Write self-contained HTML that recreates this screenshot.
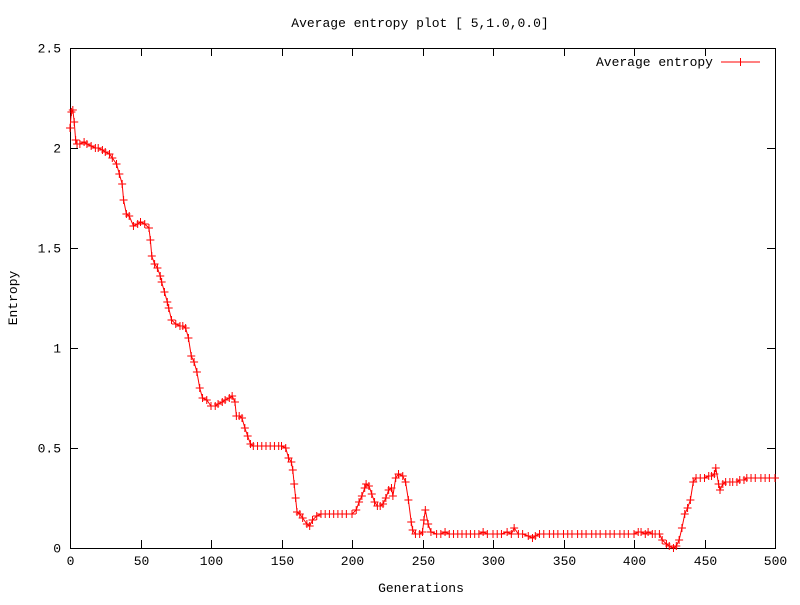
<!DOCTYPE html>
<html><head><meta charset="utf-8"><style>
body{margin:0;background:#fff}
svg text{font-family:"Liberation Mono","DejaVu Sans Mono",monospace;font-size:13px;fill:#000}
</style></head><body>
<svg id="chart" width="800" height="600" xmlns="http://www.w3.org/2000/svg">
<rect width="800" height="600" fill="#fff"/>
<g id="axes"></g>
<g id="series"></g>
<text x="420" y="27" text-anchor="middle">Average entropy plot [ 5,1.0,0.0]</text>
<text x="421" y="592" text-anchor="middle">Generations</text>
<text transform="translate(17,298) rotate(-90)" text-anchor="middle">Entropy</text>
<g>
<text x="713" y="66" text-anchor="end">Average entropy</text>
<line x1="721" y1="62" x2="760" y2="62" stroke="#f00" stroke-width="1"/>
<path d="M740.5 58v8M736.5 62h8" stroke="#f00"/>
</g>
</svg>
<script>
const xTicks=[0,50,100,150,200,250,300,350,400,450,500];
const yTicks=[0,0.5,1,1.5,2,2.5];
const yTickLabels=["0","0.5","1","1.5","2","2.5"];
const gens=[
0,1,2,3,4,5,7,10,12,15,18,20,23,25,28,30,
33,35,37,38,40,42,45,48,50,53,56,57,58,60,62,64,65,67,69,70,
72,75,78,80,82,84,86,88,90,92,94,97,100,103,105,108,110,113,115,117,118,120,122,124,126,128,
130,133,136,139,142,145,148,150,153,155,157,158,159,160,161,163,165,168,170,172,
175,178,181,184,187,190,193,196,200,203,205,207,209,210,212,214,216,218,220,222,224,226,228,229,
231,233,236,238,240,242,243,245,248,250,251,252,254,256,260,
263,266,269,272,275,278,281,284,287,290,293,296,300,
303,306,310,313,315,318,321,325,328,330,333,336,340,
343,346,350,353,356,360,363,366,370,373,376,380,383,386,390,393,396,400,
403,405,408,410,413,415,418,420,423,425,428,430,432,434,436,438,440,442,444,447,450,
453,455,457,458,460,461,463,465,468,470,473,475,478,480,483,486,490,493,496,500];
const entropy=[
2.1,2.18,2.19,2.13,2.04,2.02,2.02,2.03,2.02,2.01,2.0,2.0,1.99,1.98,1.97,1.95,
1.92,1.87,1.82,1.74,1.67,1.66,1.61,1.62,1.63,1.62,1.6,1.54,1.46,1.42,1.4,1.36,1.33,1.28,1.23,1.2,
1.14,1.12,1.11,1.11,1.1,1.05,0.96,0.93,0.88,0.8,0.75,0.74,0.71,0.71,0.72,0.73,0.74,0.75,0.76,0.73,0.66,0.66,0.65,0.6,0.56,0.52,
0.51,0.51,0.51,0.51,0.51,0.51,0.51,0.51,0.5,0.45,0.43,0.39,0.32,0.25,0.18,0.17,0.15,0.12,0.11,0.14,
0.16,0.17,0.17,0.17,0.17,0.17,0.17,0.17,0.17,0.19,0.23,0.26,0.3,0.32,0.31,0.27,0.23,0.21,0.21,0.22,0.25,0.29,0.3,0.26,
0.35,0.37,0.36,0.33,0.24,0.13,0.09,0.07,0.07,0.08,0.14,0.19,0.12,0.08,0.07,
0.07,0.08,0.07,0.07,0.07,0.07,0.07,0.07,0.07,0.07,0.08,0.07,0.07,
0.07,0.07,0.08,0.07,0.1,0.07,0.07,0.06,0.05,0.06,0.07,0.07,0.07,
0.07,0.07,0.07,0.07,0.07,0.07,0.07,0.07,0.07,0.07,0.07,0.07,0.07,0.07,0.07,0.07,0.07,0.07,
0.08,0.08,0.07,0.08,0.07,0.07,0.07,0.04,0.02,0.01,0.0,0.01,0.04,0.1,0.17,0.2,0.24,0.33,0.35,0.35,0.35,
0.36,0.36,0.37,0.4,0.32,0.29,0.32,0.33,0.33,0.33,0.33,0.34,0.34,0.35,0.35,0.35,0.35,0.35,0.35,0.35];
const L=70,R=775,T=48,B=548;
const xs=v=>L+(v-0)/500*(R-L);
const ys=v=>B-(v/2.5)*(B-T);
const NS="http://www.w3.org/2000/svg";
const ax=document.getElementById('axes'),se=document.getElementById('series');
function mk(tag,attrs,parent){const e=document.createElementNS(NS,tag);for(const k in attrs)e.setAttribute(k,attrs[k]);parent.appendChild(e);return e;}
const border=mk('rect',{x:L+0.5,y:T+0.5,width:R-L,height:B-T,fill:'none',stroke:'#000'},ax);


xTicks.forEach(t=>{const x=Math.round(xs(t))+0.5;
 const p=mk('path',{d:`M${x} ${B}v-8M${x} ${T}v8`,stroke:'#000'},ax);
 
 
 const tx=mk('text',{x:x,y:B+17,'text-anchor':'middle'},ax);tx.textContent=t;
 
 });
yTicks.forEach((t,i)=>{const y=Math.round(ys(t))+0.5;
 const p=mk('path',{d:`M${L} ${y}h8M${R} ${y}h-8`,stroke:'#000'},ax);
 
 
 const tx=mk('text',{x:L-9,y:y+4,'text-anchor':'end'},ax);tx.textContent=yTickLabels[i];
 
 });
const n=Math.min(gens.length,entropy.length);
const pts=[];for(let i=0;i<n;i++)pts.push(xs(gens[i])+','+ys(entropy[i]));
const line=mk('polyline',{points:pts.join(' '),fill:'none',stroke:'#f00'},se);


for(let i=0;i<n;i++){const x=xs(gens[i]),y=ys(entropy[i]);
 const m=mk('path',{d:`M${x} ${y-4}v8M${x-4} ${y}h8`,stroke:'#f00'},se);
 
 }
</script>
</body></html>
